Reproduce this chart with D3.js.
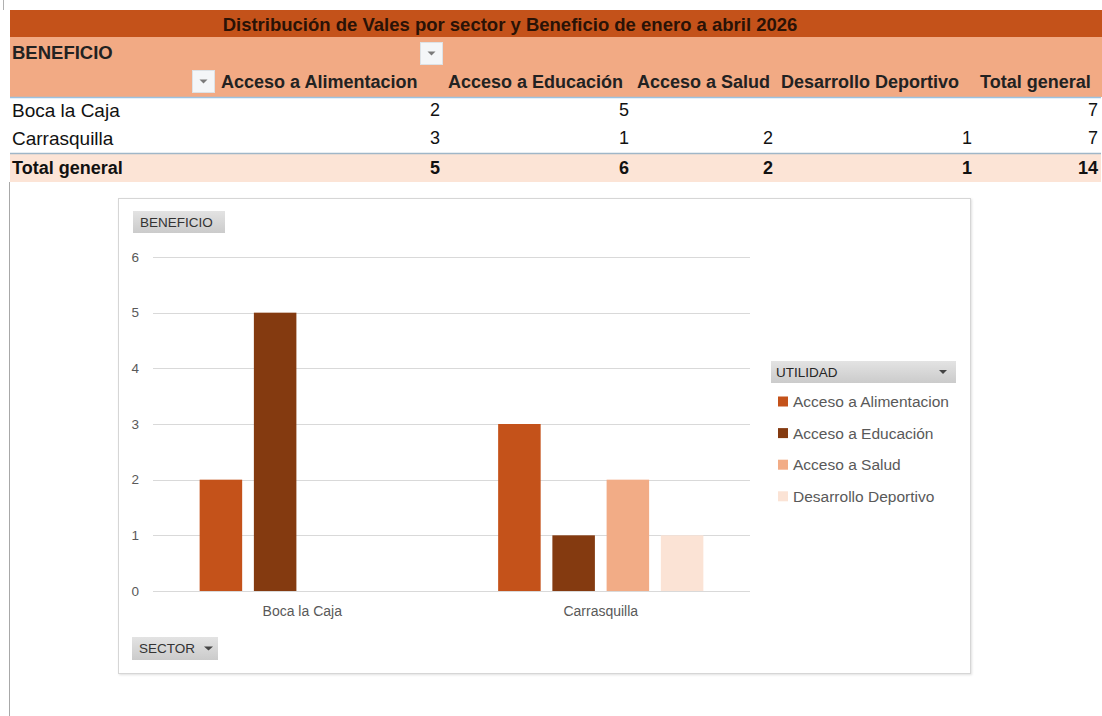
<!DOCTYPE html>
<html><head><meta charset="utf-8">
<script src="https://cdn.jsdelivr.net/npm/d3@7"></script>
<style>
html,body{margin:0;padding:0;background:#fff;}
svg{display:block;}
</style></head>
<body>
<svg id="c" width="1102" height="716"></svg>
<script>
// ---------- data ----------
const title = "Distribución de Vales por sector y Beneficio de enero a abril 2026";
const rowField = "BENEFICIO";
const sectors = ["Boca la Caja", "Carrasquilla"];
const series = ["Acceso a Alimentacion", "Acceso a Educación", "Acceso a Salud", "Desarrollo Deportivo"];
const alimentacion = [2, 3];
const educacion = [5, 1];
const salud = [null, 2];
const deportivo = [null, 1];
const totalLabel = "Total general";
const yTicks = [0, 1, 2, 3, 4, 5, 6];
const legendTitle = "UTILIDAD";
const axisButton = "BENEFICIO";
const sectorButton = "SECTOR";
const colors = ["#C4521A", "#843A10", "#F2AC86", "#FBE3D5"];

const values = [alimentacion, educacion, salud, deportivo];

const svg = d3.select("#c");
const TF = "'Liberation Sans', Arial, sans-serif";

// ---------- pivot table ----------
const colEdges = [10, 216, 443, 632, 776, 975, 1101];
svg.append("line").attr("x1", 3.5).attr("x2", 3.5).attr("y1", 0).attr("y2", 10).attr("stroke", "#b0b0b0");
svg.append("line").attr("x1", 9.5).attr("x2", 9.5).attr("y1", 182).attr("y2", 716).attr("stroke", "#a8a8a8");

svg.append("rect").attr("x", 10).attr("y", 10).attr("width", 1092).attr("height", 27).attr("fill", "#C4521A");
svg.append("rect").attr("x", 10).attr("y", 37).attr("width", 1092).attr("height", 60).attr("fill", "#F2AA84");
svg.append("line").attr("x1", 10).attr("x2", 1101).attr("y1", 97.5).attr("y2", 97.5).attr("stroke", "#9CC2E0").attr("stroke-width", 1.5);
svg.append("rect").attr("x", 10).attr("y", 154).attr("width", 1091).attr("height", 28).attr("fill", "#FCE4D6");
svg.append("line").attr("x1", 10).attr("x2", 1101).attr("y1", 153.5).attr("y2", 153.5).attr("stroke", "#9FB6C8").attr("stroke-width", 1.5);

svg.append("text").attr("x", 510).attr("y", 25).attr("dy", "0.35em").attr("text-anchor", "middle")
  .attr("font-family", TF).attr("font-weight", "bold").attr("font-size", 18.5).attr("fill", "#2a1206").text(title);

svg.append("text").attr("x", 12).attr("y", 53).attr("dy", "0.35em")
  .attr("font-family", TF).attr("font-weight", "bold").attr("font-size", 18.5).attr("fill", "#222").text(rowField);

function dropBtn(x, y) {
  svg.append("rect").attr("x", x).attr("y", y).attr("width", 22).attr("height", 22)
    .attr("fill", "#f4f6f8").attr("stroke", "#dde2e6");
  svg.append("path").attr("d", `M${x + 7},${y + 9}L${x + 15},${y + 9}L${x + 11},${y + 13}Z`).attr("fill", "#7a7a7a");
}
dropBtn(420.5, 42.5);
dropBtn(192.5, 70.5);

const headers = series.concat([totalLabel]);
svg.selectAll("text.hdr").data(headers).enter().append("text").attr("class", "hdr")
  .attr("x", (d, i) => colEdges[i + 1] + 5).attr("y", 82).attr("dy", "0.35em")
  .attr("font-family", TF).attr("font-weight", "bold").attr("font-size", 18).attr("fill", "#222").text(d => d);

const rowYs = [110, 138];
sectors.forEach((s, r) => {
  svg.append("text").attr("x", 12).attr("y", rowYs[r]).attr("dy", "0.35em")
    .attr("font-family", TF).attr("font-size", 19).attr("fill", "#111").text(s);
  const vals = values.map(v => v[r]);
  const tot = d3.sum(vals);
  vals.concat([tot]).forEach((v, c) => {
    if (v == null) return;
    svg.append("text").attr("x", colEdges[c + 2] - 3).attr("y", rowYs[r]).attr("dy", "0.35em").attr("text-anchor", "end")
      .attr("font-family", TF).attr("font-size", 18).attr("fill", "#111").text(v);
  });
});
svg.append("text").attr("x", 12).attr("y", 168).attr("dy", "0.35em")
  .attr("font-family", TF).attr("font-weight", "bold").attr("font-size", 18).attr("fill", "#111").text(totalLabel);
const colTotals = values.map(v => d3.sum(v));
colTotals.concat([d3.sum(colTotals)]).forEach((v, c) => {
  svg.append("text").attr("x", colEdges[c + 2] - 3).attr("y", 168).attr("dy", "0.35em").attr("text-anchor", "end")
    .attr("font-family", TF).attr("font-weight", "bold").attr("font-size", 18).attr("fill", "#111").text(v);
});

// ---------- chart ----------
const defs = svg.append("defs");
const f = defs.append("filter").attr("id", "sh").attr("x", "-5%").attr("y", "-5%").attr("width", "110%").attr("height", "110%");
f.append("feDropShadow").attr("dx", 1).attr("dy", 1).attr("stdDeviation", 1.2).attr("flood-color", "#000").attr("flood-opacity", 0.12);
const g1 = defs.append("linearGradient").attr("id", "btn").attr("x1", 0).attr("x2", 0).attr("y1", 0).attr("y2", 1);
g1.append("stop").attr("offset", "0%").attr("stop-color", "#e3e3e3");
g1.append("stop").attr("offset", "100%").attr("stop-color", "#cbcbcb");

svg.append("rect").attr("x", 118.5).attr("y", 198.5).attr("width", 852).attr("height", 475)
  .attr("fill", "#fff").attr("stroke", "#d6d6d6").attr("filter", "url(#sh)");

const x0 = d3.scaleBand().domain(sectors).range([153, 750]).paddingInner(0).paddingOuter(0);
const x1 = d3.scaleBand().domain(series).range([0, x0.bandwidth()]).paddingInner(0.216).paddingOuter(0.86);
const y = d3.scaleLinear().domain([0, 6]).range([591, 257]);

const grid = svg.append("g");
grid.selectAll("line").data(yTicks).enter().append("line")
  .attr("x1", 153).attr("x2", 750).attr("y1", d => Math.round(y(d)) + 0.5).attr("y2", d => Math.round(y(d)) + 0.5)
  .attr("stroke", "#d9d9d9").attr("stroke-width", 1);

const yAxis = d3.axisLeft(y).tickValues(yTicks).tickFormat(d3.format("d")).tickSize(0).tickPadding(0);
const ya = svg.append("g").attr("transform", "translate(139,0)").call(yAxis);
ya.select(".domain").remove();
ya.selectAll("text").attr("font-family", TF).attr("font-size", 13.5).attr("fill", "#595959");

const xAxis = d3.axisBottom(x0).tickSize(0).tickPadding(0);
const xa = svg.append("g").attr("transform", "translate(0,606)").call(xAxis);
xa.select(".domain").remove();
xa.selectAll("text").attr("font-family", TF).attr("font-size", 14).attr("fill", "#595959");

const bars = [];
sectors.forEach((s, i) => series.forEach((k, j) => {
  const v = values[j][i];
  if (v != null) bars.push({ s, k, v, j });
}));
svg.append("g").selectAll("rect").data(bars).enter().append("rect")
  .attr("x", d => x0(d.s) + x1(d.k)).attr("width", x1.bandwidth())
  .attr("y", d => y(d.v)).attr("height", d => y(0) - y(d.v))
  .attr("fill", d => colors[d.j]);

// buttons
function grayBtn(x, yy, w, h, label, arrow) {
  svg.append("rect").attr("x", x).attr("y", yy).attr("width", w).attr("height", h).attr("fill", "url(#btn)");
  svg.append("text").attr("x", x + 7).attr("y", yy + h / 2).attr("dy", "0.35em")
    .attr("font-family", TF).attr("font-size", 13.5).attr("fill", "#333").text(label);
  if (arrow) {
    const ax = x + w - 14, ay = yy + h / 2 - 2;
    svg.append("path").attr("d", `M${ax},${ay}L${ax + 9},${ay}L${ax + 4.5},${ay + 4}Z`).attr("fill", "#444");
  }
}
grayBtn(133, 211, 92, 22, axisButton, false);
grayBtn(132, 637, 86, 23, sectorButton, true);

// legend
svg.append("rect").attr("x", 771).attr("y", 361).attr("width", 185).attr("height", 22).attr("fill", "url(#btn)");
svg.append("text").attr("x", 776).attr("y", 372).attr("dy", "0.35em")
  .attr("font-family", TF).attr("font-size", 13.5).attr("fill", "#262626").text(legendTitle);
svg.append("path").attr("d", "M939,370L947,370L943,374Z").attr("fill", "#444");

const lg = svg.append("g").selectAll("g").data(series).enter().append("g")
  .attr("transform", (d, i) => `translate(778,${401.5 + i * 31.6})`);
lg.append("rect").attr("x", 0).attr("y", -5).attr("width", 10).attr("height", 10).attr("fill", (d, i) => colors[i]);
lg.append("text").attr("x", 15).attr("y", 0).attr("dy", "0.35em")
  .attr("font-family", TF).attr("font-size", 15.5).attr("fill", "#595959").text(d => d);
</script>
</body></html>
